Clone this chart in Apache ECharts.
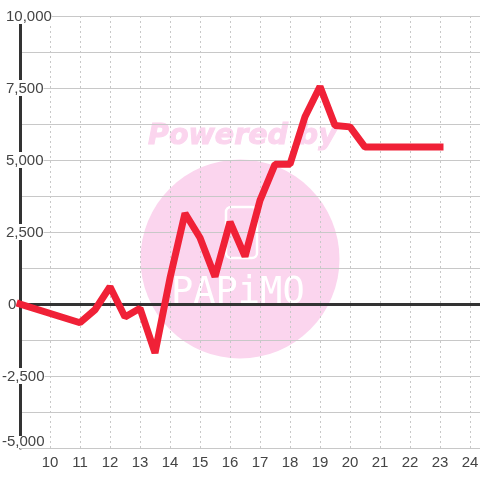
<!DOCTYPE html>
<html><head><meta charset="utf-8">
<style>html,body{margin:0;padding:0;background:#fff}#c{width:480px;height:480px}</style>
<script src="https://cdn.jsdelivr.net/npm/echarts@6/dist/echarts.min.js"></script>
</head><body><div id="c"></div>
<script>
const xValues = [9, 11, 11.5, 12, 12.5, 13, 13.5, 14, 14.5, 15, 15.5, 16, 16.5, 17, 17.5, 18, 18.5, 19, 19.5, 20, 20.5, 21, 21.5, 22, 22.5, 23];
const yValues = [0, -650, -200, 600, -450, -150, -1700, 900, 3150, 2300, 950, 2850, 1650, 3600, 4850, 4850, 6500, 7550, 6200, 6150, 5450, 5450, 5450, 5450, 5450, 5450];
const labelledEvery = 2500;
const yMin = -5000;
const chart = echarts.init(document.getElementById('c'), null, {renderer:'canvas'});
const pink = '#fbd5ee', dark = '#333333', grey = '#c8c8c8';
function yLabel(v){
  if (v % labelledEvery !== 0) return '';
  const t = v.toLocaleString('en-US');
  if (v === yMin) return '{m|' + t + '}';
  if (v < 0) return '{n|' + t + '}';
  if (v === 0) return '{z|' + t + '}';
  return '{p|' + t + '}';
}
const txt = {fontFamily:'Liberation Sans', fontSize:15, color:'#444', lineHeight:14, backgroundColor:'#fff', height:14};
chart.setOption({
  animation:false,
  backgroundColor:'#fff',
  grid:{left:20, right:0, top:16, bottom:32, outerBoundsMode:'none', containLabel:false},
  xAxis:[{
    type:'value', min:9, max:9+460/30, interval:1, position:'bottom',
    axisLine:{onZero:false, show:true, lineStyle:{color:grey, width:1}},
    axisTick:{show:false},
    axisLabel:{show:true, showMinLabel:false, showMaxLabel:false, margin:7,
      fontFamily:'Liberation Sans', fontSize:15, color:'#444'},
    splitLine:{show:true, lineStyle:{color:grey, type:[2,3], width:1}}
  },{
    type:'value', min:9, max:9+460/30, interval:1, position:'bottom',
    axisLine:{onZero:true, show:true, lineStyle:{color:dark, width:3}},
    axisTick:{show:false}, axisLabel:{show:false}, splitLine:{show:false}
  }],
  yAxis:{
    type:'value', min:yMin, max:10000, interval:1250,
    axisLine:{show:true, onZero:false, lineStyle:{color:dark, width:3}},
    axisTick:{show:false},
    splitLine:{show:true, lineStyle:{color:grey, width:1}},
    axisLabel:{show:true, align:'left', margin:18, verticalAlignMinLabel:'bottom',
      formatter:yLabel,
      rich:{
        p:Object.assign({}, txt, {padding:[2,0,0,4]}),
        z:Object.assign({}, txt, {padding:[2,0,0,6]}),
        n:Object.assign({}, txt, {padding:[2,0,0,0]}),
        m:Object.assign({}, txt, {height:12, lineHeight:12})
      }}
  },
  graphic:{elements:[
    {type:'circle', z:-10, silent:true, shape:{cx:240, cy:259, r:99.5}, style:{fill:pink}},
    {type:'text', z:-10, silent:true, x:148, y:122, style:{text:'Powered by', fill:pink, stroke:pink, lineWidth:1, font:'italic bold 28.5px "DejaVu Sans"'}},
    {type:'rect', z:-9, silent:true, shape:{x:226, y:207, width:31, height:51, r:5}, style:{fill:'none', stroke:'#fff', lineWidth:2.5}},
    {type:'text', z:-9, silent:true, x:171, y:275, style:{text:'PAPiMO', fill:'#fff', font:'37px "DejaVu Sans Mono"'}}
  ]},
  series:[{
    type:'line', xAxisIndex:0, data:xValues.map((x,i)=>[x,yValues[i]]),
    showSymbol:false, symbol:'none', smooth:false, z:5,
    lineStyle:{color:'#f02137', width:7, join:'bevel', cap:'square'}
  }]
});
</script></body></html>
